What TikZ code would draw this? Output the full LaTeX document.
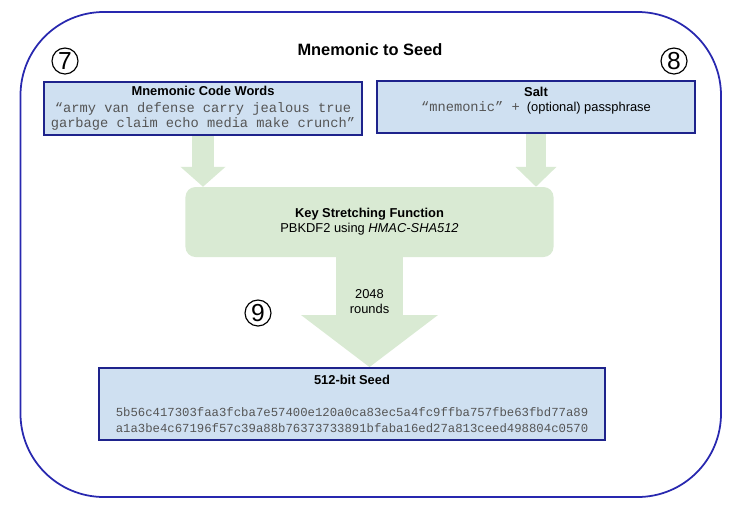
\documentclass[tikz,border=0pt]{standalone}
\usepackage{fontspec}
\setmainfont{Liberation Sans}
\setmonofont{Liberation Mono}
\usepackage{tikz}
\usetikzlibrary{calc,positioning,backgrounds,arrows.meta}
\definecolor{navy}{RGB}{30,35,140}
\definecolor{frameblue}{RGB}{40,40,175}
\definecolor{boxblue}{RGB}{207,224,241}
\definecolor{kdfgreen}{RGB}{217,234,211}
\definecolor{codegrey}{RGB}{85,85,85}
\newcommand{\codetxt}[1]{{\fontsize{11.7}{12.5}\ttfamily\color{codegrey}#1}}

\begin{document}
\begin{tikzpicture}[x=0.03cm,y=-0.03cm]

\tikzset{bluebox/.style={draw=navy,fill=boxblue,line width=1.5pt,inner sep=0pt},
greenbox/.style={fill=kdfgreen,rounded corners=0.3cm,inner sep=0pt,align=center,font=\fontsize{11}{13}\selectfont},
fatarrow/.style={draw=kdfgreen},
boxtext/.style={align=center,inner sep=0pt,font=\fontsize{11}{13}\selectfont},
hextext/.style={align=center,inner sep=0pt,font=\fontsize{10.5}{13.6}\ttfamily,text=codegrey},
stepnum/.style={shape=circle,draw,line width=1pt,minimum size=0.78cm,inner sep=0pt,font=\fontsize{21}{21}\selectfont}}

\useasboundingbox (0,0) rectangle (753,524);

% Frame
\draw[frameblue,line width=1.5pt,rounded corners=2.5cm] (20.5,12) rectangle (721,497);
\node (title) at (370,50) {\fontsize{14}{16}\selectfont\bfseries Mnemonic to Seed};

% Inputs
\node (words) [bluebox,boxtext,minimum width=9.54cm,minimum height=1.59cm] at (203,108.5) {\textbf{Mnemonic Code Words}\\[1pt] \codetxt{“army van defense carry jealous true}\\ \codetxt{garbage claim echo media make crunch”}};
\node (salt) [bluebox,minimum width=9.54cm,minimum height=1.56cm] at (536,107) {};
\node (saltText) [boxtext,below=0.2cm of salt.north] {\textbf{Salt}\\ \codetxt{“mnemonic” +}\hspace{3pt} (optional) passphrase};

% KDF
\node (kdf) [greenbox,minimum width=11.04cm,minimum height=2.1cm] at (369.5,222) {\textbf{Key Stretching Function}\\ PBKDF2 using \textit{HMAC-SHA512}};

% Output
\node (seed) [bluebox,minimum width=15.18cm,minimum height=2.16cm] at (352,404) {};
\node (seedTitle) [boxtext,below=0.22cm of seed.north] {\textbf{512-bit Seed}};
\node (seedHex) [hextext,above=0.25cm of seed.south] {5b56c417303faa3fcba7e57400e120a0ca83ec5a4fc9ffba757fbe63fbd77a89\\ a1a3be4c67196f57c39a88b76373733891bfaba16ed27a813ceed498804c0570};

% step numbers
\node (seven) [stepnum] at (65,61) {7};
\node (eight) [stepnum] at (674,61) {8};
\node (nine) [stepnum] at (258,313) {9};

% Arrows
\begin{scope}[on background layer]
\draw[fatarrow,line width=0.66cm,-{Triangle[width=1.32cm,length=0.6cm]}] (words.south) -- (words.south |- kdf.north);
\draw[fatarrow,line width=0.6cm,-{Triangle[width=1.2cm,length=0.6cm]}] (salt.south) -- (salt.south |- kdf.north);
\draw[fatarrow,line width=2.01cm,-{Triangle[width=4.02cm,length=1.56cm]}] (kdf.south) -- (kdf.south |- seed.north) node[pos=0.4,boxtext] (rounds) {2048\\ rounds};
\end{scope}

\end{tikzpicture}
\end{document}
